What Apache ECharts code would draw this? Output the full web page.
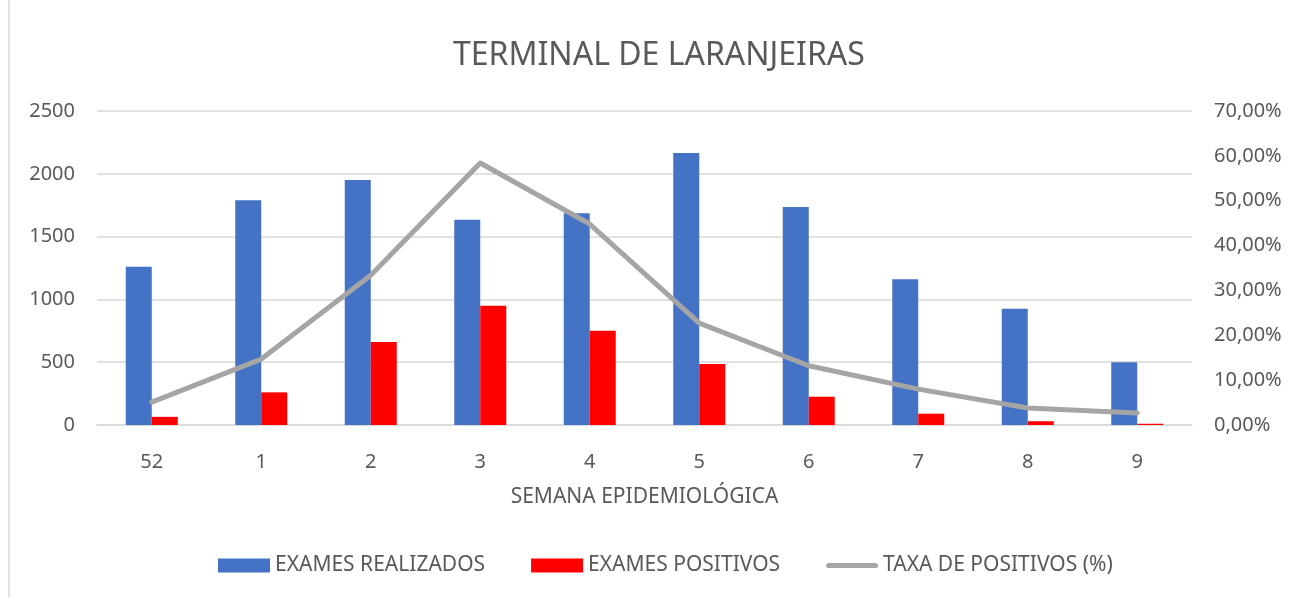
<!DOCTYPE html>
<html>
<head>
<meta charset="utf-8">
<script src="https://cdn.jsdelivr.net/npm/echarts@6/dist/echarts.min.js"></script>
<style>
  html, body { margin: 0; padding: 0; background: #fff; }
  #chart { width: 1295px; height: 597px; }
</style>
</head>
<body>
<div id="chart"></div>
<script>
const semanas = ['52', '1', '2', '3', '4', '5', '6', '7', '8', '9'];
const examesRealizados = [1260, 1790, 1950, 1635, 1685, 2165, 1735, 1160, 925, 500];
const examesPositivos = [65, 260, 660, 950, 750, 485, 225, 90, 30, 10];
const taxaPositivos = [5.1, 14.7, 33.4, 58.4, 44.8, 22.7, 13.2, 8.0, 3.8, 2.7];

const textColor = '#595959';
const font = 'Noto Sans';

const myChart = echarts.init(document.getElementById('chart'));
const option = {
  animation: false,
  textStyle: { fontFamily: font },
  graphic: [{
    type: 'rect',
    shape: { x: 9, y: -2, width: 1300, height: 610 },
    style: { fill: 'none', stroke: '#d9d9d9', lineWidth: 1.5 }
  }],
  title: {
    text: 'TERMINAL DE LARANJEIRAS',
    left: 448,
    top: 35,
    textStyle: { color: textColor, fontSize: 32, fontWeight: 'normal', fontFamily: font }
  },
  legend: {
    bottom: 16,
    left: 213,
    itemGap: 46,
    itemWidth: 52,
    itemHeight: 14,
    textStyle: { color: textColor, fontSize: 21, fontFamily: font },
    data: [
      { name: 'EXAMES REALIZADOS', icon: 'rect' },
      { name: 'EXAMES POSITIVOS', icon: 'rect' },
      {
        name: 'TAXA DE POSITIVOS (%)',
        icon: 'path://M2.5,0 H49.5 A2.5,2.5 0 0 1 49.5,5 H2.5 A2.5,2.5 0 0 1 2.5,0 Z'
      }
    ]
  },
  grid: {
    left: 97,
    right: 103,
    top: 111,
    bottom: 172,
    containLabel: false
  },
  xAxis: {
    type: 'category',
    data: semanas,
    name: 'SEMANA EPIDEMIOLÓGICA',
    nameLocation: 'middle',
    nameGap: 62,
    nameTextStyle: { color: textColor, fontSize: 21, fontFamily: font },
    axisLine: { lineStyle: { color: '#d9d9d9', width: 1.5 } },
    axisTick: { show: false },
    axisLabel: { color: textColor, fontSize: 20, margin: 27 }
  },
  yAxis: [
    {
      type: 'value',
      min: 0,
      max: 2500,
      interval: 500,
      axisLine: { show: false },
      axisTick: { show: false },
      axisLabel: {
        color: textColor,
        fontSize: 20,
        margin: 22,
        formatter(value) {
          return String(value);
        }
      },
      splitLine: { lineStyle: { color: '#d9d9d9', width: 1.5 } }
    },
    {
      type: 'value',
      min: 0,
      max: 70,
      interval: 10,
      axisLine: { show: false },
      axisTick: { show: false },
      splitLine: { show: false },
      axisLabel: {
        color: textColor,
        fontSize: 20,
        margin: 22,
        formatter(value) {
          return value.toFixed(2).replace('.', ',') + '%';
        }
      }
    }
  ],
  series: [
    {
      name: 'EXAMES REALIZADOS',
      type: 'bar',
      barWidth: 26,
      barGap: '0%',
      itemStyle: { color: '#4472C4' },
      data: examesRealizados
    },
    {
      name: 'EXAMES POSITIVOS',
      type: 'bar',
      barWidth: 26,
      barGap: '0%',
      itemStyle: { color: '#FF0000' },
      data: examesPositivos
    },
    {
      name: 'TAXA DE POSITIVOS (%)',
      type: 'line',
      yAxisIndex: 1,
      symbol: 'none',
      z: 5,
      lineStyle: { color: '#A5A5A5', width: 5, cap: 'round', join: 'round' },
      itemStyle: { color: '#A5A5A5' },
      data: taxaPositivos
    }
  ]
};
myChart.setOption(option);
</script>
</body>
</html>
